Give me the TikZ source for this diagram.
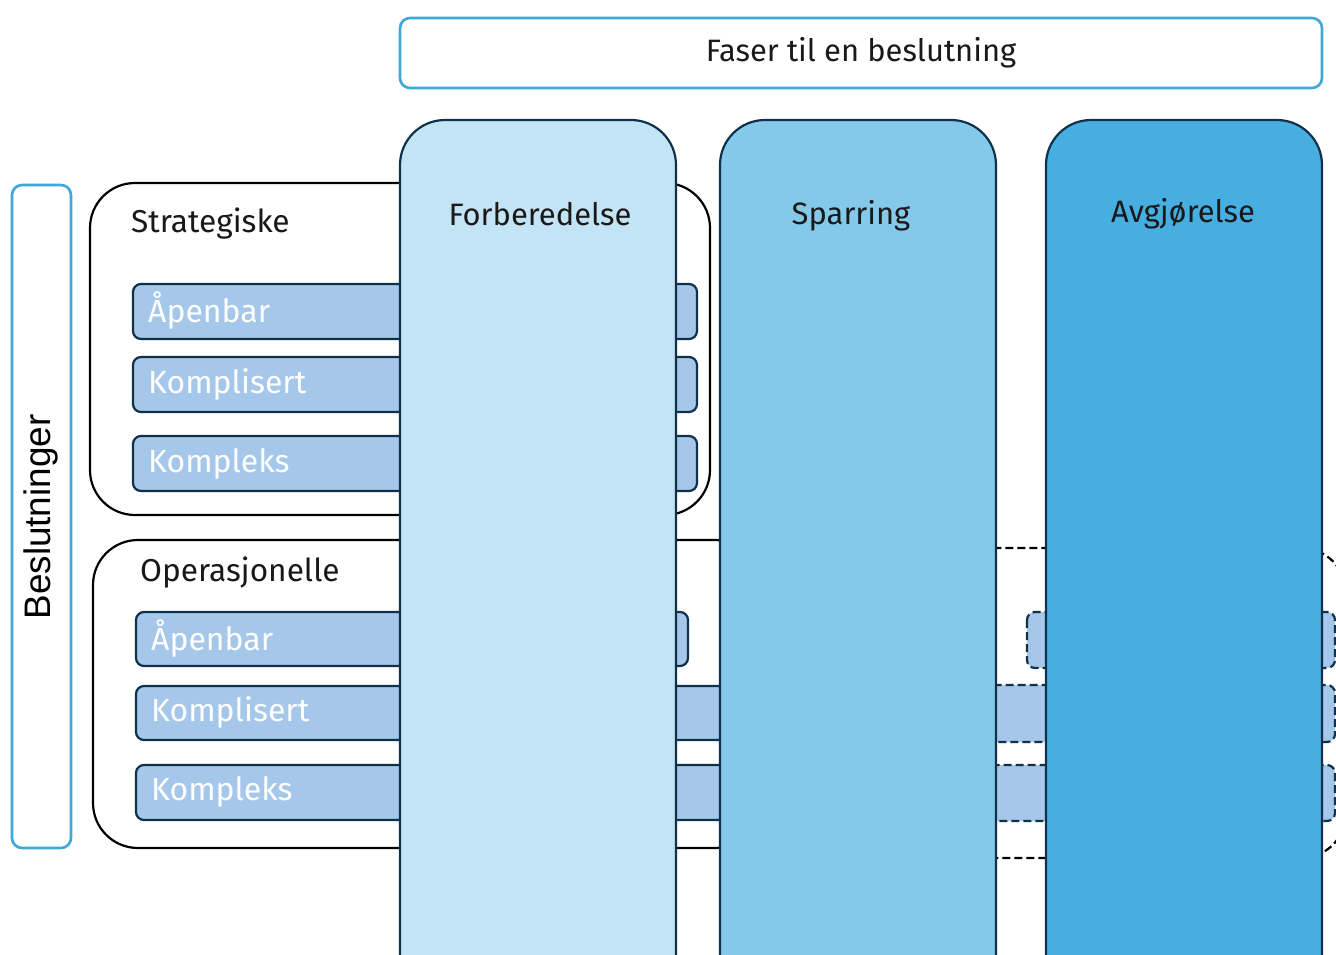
\documentclass[tikz,border=0pt]{standalone}
\usepackage{fontspec}
\setmainfont{Fira Sans}
\newfontfamily\arialfont{Liberation Sans}
\definecolor{framecol}{HTML}{3FA8D6}
\definecolor{edgecol}{HTML}{11304A}
\definecolor{barcol}{HTML}{A4C7EA}
\definecolor{phaseone}{HTML}{C3E4F5}
\definecolor{phasetwo}{HTML}{85C9EA}
\definecolor{phasethree}{HTML}{46AEE0}
\begin{document}
\begin{tikzpicture}[
    x=0.02cm, y=-0.02cm,
    % Outer frames
    frame/.style={
        draw=framecol,
        line width=1.5pt,
        rounded corners=0.2cm,
        fill=white
    },
    % Decision groups
    group/.style={
        draw=black,
        line width=1.25pt,
        rounded corners=0.9cm,
        fill=white
    },
    groupdash/.style={group, dashed, dash pattern=on 0.16cm off 0.08cm},
    % Decision bars
    bar/.style={
        draw=edgecol,
        line width=1.25pt,
        rounded corners=0.16cm,
        fill=barcol
    },
    bardash/.style={bar, dash pattern=on 0.16cm off 0.08cm},
    % Phase columns
    phase/.style={
        draw=edgecol,
        line width=1.25pt,
        rounded corners=0.9cm
    },
    % Text styles
    title/.style={font=\fontsize{17.6}{21}\selectfont, text=black!90},
    grouptitle/.style={font=\fontsize{18}{21}\selectfont, text=black!90, anchor=west},
    barlabel/.style={font=\fontsize{18.2}{21}\selectfont, text=white, anchor=west}
    ]

    \useasboundingbox (0,0) rectangle (1336,954);
    \clip (0,0) rectangle (1336,954);

    % Header and side frame
    \draw[frame] (400,18) rectangle (1322,88);
    \node[title] (faser) at (861,53) {Faser til en beslutning};

    \draw[frame] (12,185) rectangle (71,848);
    \node[font=\arialfont\fontsize{21}{25}\selectfont, rotate=90] (beslut) at (41,517) {Beslutninger};

    % Strategic decisions
    \draw[group] (90,183) rectangle (710,515);
    \node[grouptitle] (strat) at (125,224) {Strategiske};
    \draw[bar] (133,284) rectangle (697,339);
    \draw[bar] (133,357) rectangle (697,412);
    \draw[bar] (133,436) rectangle (697,491);
    \node[barlabel] (sapen) at (142,311) {Åpenbar};
    \node[barlabel] (skompl) at (142,384) {Komplisert};
    \node[barlabel] (skomp) at (142,464) {Kompleks};

    % Operational decisions - solid part and dashed part
    \draw[groupdash] (900,548) rectangle (1346,858);
    \draw[group] (93,540) rectangle (760,848);
    \node[grouptitle] (oper) at (134,573) {Operasjonelle};
    \draw[bar] (136,612) rectangle (688,666);
    \draw[bar] (136,686) rectangle (760,740);
    \draw[bar] (136,765) rectangle (760,820);
    \draw[bardash] (1027,612) rectangle (1335,668);
    \draw[bardash] (900,685) rectangle (1335,742);
    \draw[bardash] (900,765) rectangle (1335,821);
    \node[barlabel] (oapen) at (145,639) {Åpenbar};
    \node[barlabel] (okompl) at (145,712) {Komplisert};
    \node[barlabel] (okomp) at (145,792) {Kompleks};

    % Phase columns
    \draw[phase, fill=phaseone] (400,120) rectangle (676,1000);
    \draw[phase, fill=phasetwo] (720,120) rectangle (996,1000);
    \draw[phase, fill=phasethree] (1046,120) rectangle (1322,1000);
    \node[title] (forb) at (540,214) {Forberedelse};
    \node[title] (sparr) at (851,216) {Sparring};
    \node[title] (avgj) at (1183,214) {Avgjørelse};

\end{tikzpicture}
\end{document}
